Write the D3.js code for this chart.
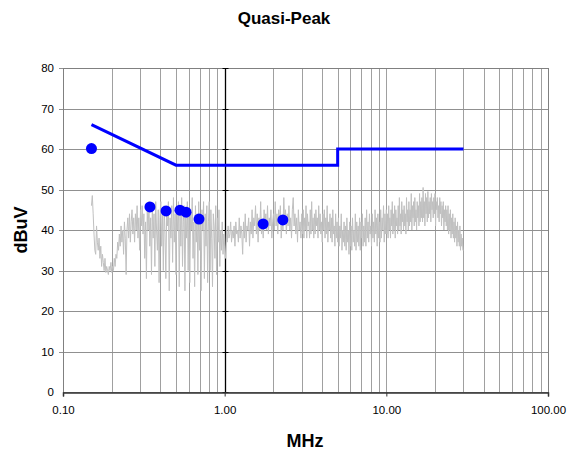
<!DOCTYPE html>
<html>
<head>
<meta charset="utf-8">
<script src="https://cdn.jsdelivr.net/npm/d3@7"></script>
<style>
  body { margin: 0; background: #fff; }
  text { font-family: "Liberation Sans", Arial, sans-serif; }
</style>
</head>
<body>
<script>
// limit line (MHz, dBuV)
var limitFreq = [0.15, 0.5, 5, 5, 30];
var limitLevel = [66, 56, 56, 60, 60];

// quasi-peak readings
var qpFreq = [0.15, 0.345, 0.434, 0.529, 0.577, 0.694, 1.73, 2.29];
var qpLevel = [60.1, 45.7, 44.7, 44.9, 44.4, 42.7, 41.5, 42.5];

var bandEdges = [0.15, 0.5, 1, 3, 10, 30];
var scan1 = [46,48.5,44,39,35,34,41,37,35,38, 33,36,31,34,32,30,33,29.5,31,30,
  29,31,30,32,29.5,31,30,33,31,34, 33,37,35,39,36,41,37,40,34,42,
  38,29,40,43,38,44,37,42,45,39, 43,37,44,40,46,38,43,35,45,41,
  46,39,44,33,42,28,45,40,47,36, 43,29,46,38,44,31,47,40,35,45,
  27,43,47,36,44,30,46,39,28,45, 41,47,25,43,38,46,32,48,37,44];
var scan2 = [29,45,40,47,26,44,36,48,31,42, 46,25,43,38,47,30,45,27,44,40,
  48,33,42,26,46,37,44,29,47,35, 43,25,45,40,47,28,44,36,46,27,
  42,47,30,45,38,26,44,41,33,46, 29,43,37,45,31,40,35,42,34,39];
var scan3 = [36,33,40,37,41,38,39,42,37,40, 38,41,36,42,39,40,37,43,38,41,
  39,34,42,38,44,37,41,40,43,36, 42,39,45,38,43,41,46,39,44,37,
  43,40,47,39,42,38,45,41,44,40, 46,39,43,41,45,38,42,44,40,47,
  41,44,39,45,42,46,38,43,40,48, 42,45,39,44,41,46,40,43,38,45,
  48,41,44,39,43,37,45,40,42,38];
var scan4 = [44,39,45,38,43,40,46,38,44,41, 42,38,45,39,47,40,43,38,44,39,
  45,41,43,38,46,40,44,39,42,37, 44,40,45,38,43,39,46,37,42,40,
  44,38,43,37,45,39,41,36,44,38, 42,37,43,36,41,38,44,35,40,37,
  42,36,41,35,43,37,40,34,42,36, 41,35,43,37,40,36,44,35,42,37,
  41,36,43,35,42,38,44,36,41,37, 43,36,45,38,42,37,44,39,41,36,
  44,38,42,37,45,39,43,36,44,38, 42,37,45,38,43,40,46,37,44,39];
var scan5 = [45,39,44,38,46,40,43,38,45,41, 47,39,44,40,46,38,45,41,43,39,
  46,40,48,41,44,39,47,42,45,40, 46,41,44,39,48,42,45,40,47,41,
  45,42,49,40,46,43,47,41,48,42, 45,40,47,43,46,41,49,42,47,43,
  48,42,50.5,43,47,41,49,44,48,42, 49.5,43,47,44,48,42,49,45,47,43,
  48,44,49,41,47,45,48,43,46,42, 48,44,47,41,46,43,47,40,45,42,
  46,41,45,40,46,39,44,40,45,38, 43,39,44,38,42,37,43,38,41,36,
  42,37,40,36,41,35,39,36,38,35];
var scanPieces = [scan1, scan2, scan3, scan4, scan5];

var xTicks = [0.1, 1, 10, 100];
var yTicks = [0, 10, 20, 30, 40, 50, 60, 70, 80];

var width = 568,
    height = 453;
var pL = 63, pR = 548, pT = 68, pB = 392;

var svg = d3.select("body").append("svg")
    .attr("width", width)
    .attr("height", height);

var x = d3.scaleLog().domain([0.1, 100]).range([pL, pR]);
var y = d3.scaleLinear().domain([0, 80]).range([pB, pT]);

// minor + major vertical grid
var vLines = [];
for (var dec = 0.1; dec < 50; dec *= 10) {
  for (var k = 1; k < 10; k++) vLines.push(dec * k);
}
svg.append("g").selectAll("line")
  .data(vLines.filter(function(d){ return d > 0.1001; }))
  .enter().append("line")
  .attr("x1", function(d){ return Math.round(x(d)) + 0.5; })
  .attr("x2", function(d){ return Math.round(x(d)) + 0.5; })
  .attr("y1", pT).attr("y2", pB)
  .attr("stroke", "#a0a0a0")
  .attr("stroke-width", 1);

svg.append("g").selectAll("line")
  .data(yTicks.slice(1))
  .enter().append("line")
  .attr("x1", pL - 4).attr("x2", pR)
  .attr("y1", function(d){ return Math.round(y(d)) + 0.5; })
  .attr("y2", function(d){ return Math.round(y(d)) + 0.5; })
  .attr("stroke", "#909090");

// frame
svg.append("rect")
  .attr("x", pL + 0.5).attr("y", pT + 0.5)
  .attr("width", pR - pL).attr("height", pB - pT)
  .attr("fill", "none").attr("stroke", "#808080");

// value axis crosses at 1 MHz
var cross = Math.round(x(1)) + 0.5;
svg.append("line")
  .attr("x1", cross).attr("x2", cross)
  .attr("y1", pT).attr("y2", pB)
  .attr("stroke", "#000").attr("stroke-width", 1.3);
svg.append("g").selectAll("line")
  .data(yTicks)
  .enter().append("line")
  .attr("x1", cross - 3).attr("x2", cross + 3)
  .attr("y1", function(d){ return Math.round(y(d)) + 0.5; })
  .attr("y2", function(d){ return Math.round(y(d)) + 0.5; })
  .attr("stroke", "#000");

// bottom axis
var xAxis = d3.axisBottom(x).tickValues(xTicks)
  .tickFormat(d3.format(".2f")).tickSize(4).tickPadding(9);
var gx = svg.append("g")
  .attr("transform", "translate(0," + (pB + 0.5) + ")")
  .call(xAxis);
gx.select(".domain").attr("stroke", "#333").attr("stroke-width", 1.5);
gx.selectAll(".tick line").attr("stroke", "#333");
gx.selectAll("text").attr("font-size", "11.5px").attr("fill", "#000")
  .style("font-family", "Liberation Sans, Arial, sans-serif");

// left labels
svg.append("g").selectAll("text")
  .data(yTicks)
  .enter().append("text")
  .attr("x", pL - 9)
  .attr("y", function(d){ return y(d); })
  .attr("dy", ".35em")
  .attr("text-anchor", "end")
  .attr("font-size", "11.5px")
  .text(function(d){ return d; });

// scan trace
var scanPts = [];
scanPieces.forEach(function(arr, p){
  var a = Math.log10(bandEdges[p]), b = Math.log10(bandEdges[p + 1]);
  arr.forEach(function(v, i){
    scanPts.push([Math.pow(10, a + (b - a) * i / arr.length), v]);
  });
});
scanPts.push([30, scan5[scan5.length - 1]]);

var line = d3.line()
  .x(function(d){ return x(d[0]); })
  .y(function(d){ return y(d[1]); });

svg.append("path")
  .datum(scanPts)
  .attr("d", line)
  .attr("fill", "none")
  .attr("stroke", "#c0c0c0")
  .attr("stroke-width", 1);

// limit
svg.append("path")
  .datum(limitFreq.map(function(f, i){ return [f, limitLevel[i]]; }))
  .attr("d", line)
  .attr("fill", "none")
  .attr("stroke", "#0000ff")
  .attr("stroke-width", 3);

// QP points
svg.append("g").selectAll("circle")
  .data(qpFreq)
  .enter().append("circle")
  .attr("cx", function(d){ return x(d); })
  .attr("cy", function(d, i){ return y(qpLevel[i]); })
  .attr("r", 5.5)
  .attr("fill", "#0000ff");

// titles
svg.append("text")
  .attr("x", 284).attr("y", 24)
  .attr("text-anchor", "middle")
  .attr("font-size", "17px").attr("font-weight", "bold")
  .text("Quasi-Peak");

svg.append("text")
  .attr("x", 305).attr("y", 447)
  .attr("text-anchor", "middle")
  .attr("font-size", "18px").attr("font-weight", "bold")
  .text("MHz");

svg.append("text")
  .attr("transform", "translate(27,230) rotate(-90)")
  .attr("text-anchor", "middle")
  .attr("font-size", "18px").attr("font-weight", "bold")
  .text("dBuV");
</script>
</body>
</html>
